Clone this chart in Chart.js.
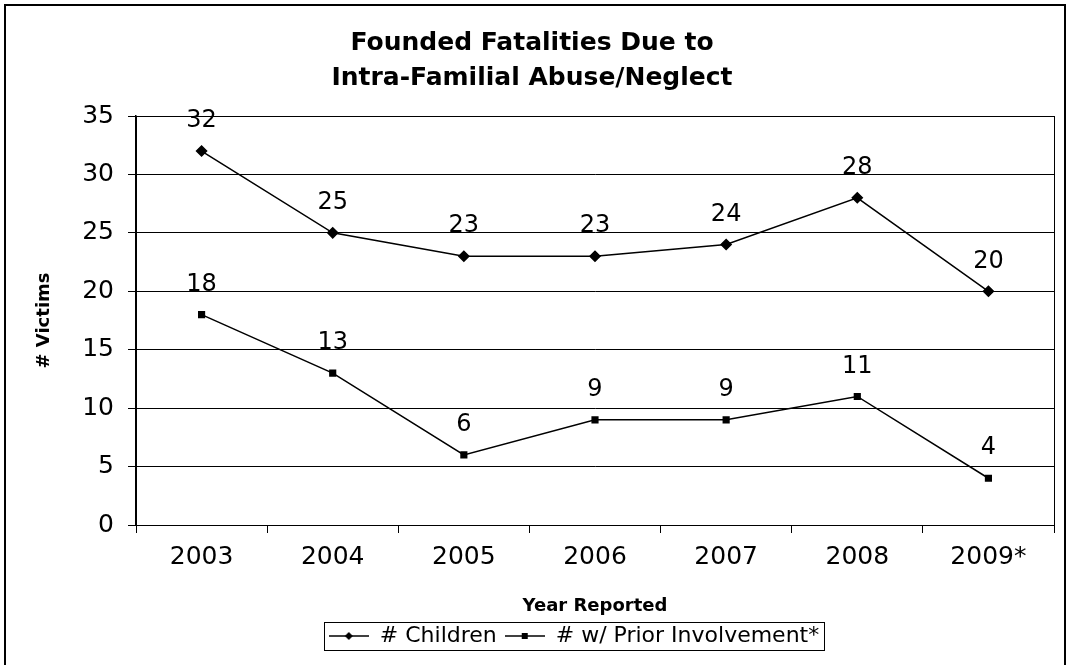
<!DOCTYPE html>
<html>
<head>
<meta charset="utf-8">
<script src="https://cdn.jsdelivr.net/npm/chart.js@4.4.1/dist/chart.umd.min.js"></script>
<style>
  html, body { margin: 0; padding: 0; background: #fff; }
  #wrap { width: 1070px; height: 665px; position: relative; }
</style>
</head>
<body>
<div id="wrap"><canvas id="c" width="1070" height="665"></canvas></div>
<script>
const categories = ['2003', '2004', '2005', '2006', '2007', '2008', '2009*'];
const children = [32, 25, 23, 23, 24, 28, 20];
const priorInvolvement = [18, 13, 6, 9, 9, 11, 4];
const yTicks = [0, 5, 10, 15, 20, 25, 30, 35];
const seriesNames = ['# Children', '# w/ Prior Involvement*'];
const titleLines = ['Founded Fatalities Due to', 'Intra-Familial Abuse/Neglect'];

const FONT = '"DejaVu Sans", "Liberation Sans", Arial, sans-serif';

function legendIcon(style) {
  const cv = document.createElement('canvas');
  cv.width = 40; cv.height = 12;
  const g = cv.getContext('2d');
  g.strokeStyle = '#000'; g.lineWidth = 1.5;
  g.beginPath(); g.moveTo(0, 6); g.lineTo(40, 6); g.stroke();
  g.fillStyle = '#000';
  if (style === 'diamond') {
    g.beginPath(); g.moveTo(20, 2); g.lineTo(24, 6); g.lineTo(20, 10); g.lineTo(16, 6); g.closePath(); g.fill();
  } else {
    g.fillRect(17, 3, 6, 6);
  }
  return cv;
}

const frame = {
  id: 'frame',
  afterLayout(chart) {
    const lg = chart.legend;
    if (lg) { lg.left += 42; lg.right += 42; }
  },
  beforeDraw(chart) {
    const ctx = chart.ctx;
    ctx.save();
    ctx.fillStyle = '#fff';
    ctx.fillRect(0, 0, chart.width, chart.height);
    ctx.strokeStyle = '#000';
    ctx.lineWidth = 2;
    ctx.strokeRect(5, 5, 1060, 680);
    ctx.restore();
  },
  afterDraw(chart) {
    const ctx = chart.ctx;
    const a = chart.chartArea;
    ctx.save();
    ctx.strokeStyle = '#000';
    ctx.lineWidth = 1;
    ctx.strokeRect(Math.round(a.left) + 0.5, Math.round(a.top) + 0.5, Math.round(a.right - a.left), Math.round(a.bottom - a.top));
    // legend box
    const boxes = chart.legend.legendHitBoxes;
    if (boxes && boxes.length) {
      let l = Infinity, r = -Infinity, t = Infinity, b = -Infinity;
      boxes.forEach(h => { l = Math.min(l, h.left); r = Math.max(r, h.left + h.width); t = Math.min(t, h.top); b = Math.max(b, h.top + h.height); });
      ctx.strokeRect(Math.round(l - 5) + 0.5, Math.round(t - 3) + 0.5, Math.round(r - l + 10), Math.round(b - t + 6));
    }
    // data labels
    ctx.fillStyle = '#000';
    ctx.font = '24px ' + FONT;
    ctx.textAlign = 'center';
    ctx.textBaseline = 'middle';
    chart.data.datasets.forEach((ds, i) => {
      const meta = chart.getDatasetMeta(i);
      meta.data.forEach((pt, j) => {
        ctx.fillText(String(ds.data[j]), pt.x, pt.y - 30);
      });
    });
    ctx.restore();
  }
};

new Chart(document.getElementById('c'), {
  type: 'line',
  data: {
    labels: categories,
    datasets: [
      {
        label: seriesNames[0], data: children,
        borderColor: '#000', backgroundColor: '#000', borderWidth: 1.5,
        pointStyle: 'rectRot', pointRadius: 5, pointHoverRadius: 5, tension: 0, fill: false,
        legendIcon: 'diamond'
      },
      {
        label: seriesNames[1], data: priorInvolvement,
        borderColor: '#000', backgroundColor: '#000', borderWidth: 1.5,
        pointStyle: 'rect', pointRadius: 4, pointHoverRadius: 4, tension: 0, fill: false,
        legendIcon: 'square'
      }
    ]
  },
  options: {
    responsive: false,
    animation: false,
    events: [],
    layout: { padding: { left: 10, right: 16, top: 6, bottom: 8 } },
    plugins: {
      tooltip: { enabled: false },
      title: {
        display: true, text: titleLines, color: '#000',
        font: { family: FONT, size: 25, weight: 'bold', lineHeight: 1.4 },
        padding: { top: 20, bottom: 20 }
      },
      legend: {
        position: 'bottom',
        labels: {
          color: '#000',
          font: { family: FONT, size: 22 },
          usePointStyle: true,
          pointStyleWidth: 40,
          padding: 8,
          generateLabels(chart) {
            return chart.data.datasets.map((ds, i) => ({
              text: ds.label,
              pointStyle: legendIcon(ds.legendIcon),
              fillStyle: '#000', strokeStyle: '#000', lineWidth: 0,
              datasetIndex: i, hidden: false, fontColor: '#000'
            }));
          }
        }
      }
    },
    scales: {
      x: {
        offset: true,
        afterFit(scale) { scale.height = 92; },
        grid: { offset: true, drawOnChartArea: false, drawTicks: true, tickLength: 8, color: '#000' },
        border: { display: true, color: '#000', width: 1 },
        ticks: { color: '#000', font: { family: FONT, size: 25 }, padding: 9, maxRotation: 0 },
        title: { display: true, text: 'Year Reported', color: '#000', font: { family: FONT, size: 18, weight: 'bold' }, padding: { top: 20, bottom: 0 } }
      },
      y: {
        min: 0, max: 35,
        afterBuildTicks(scale) { scale.ticks = yTicks.map(v => ({ value: v })); },
        afterFit(scale) { scale.width = 126; },
        grid: { color: '#000', lineWidth: 1, drawTicks: true, tickLength: 8 },
        border: { display: true, color: '#000', width: 1.5 },
        ticks: { color: '#000', font: { family: FONT, size: 25 }, padding: 14 },
        title: { display: true, text: '# Victims', color: '#000', font: { family: FONT, size: 18, weight: 'bold' }, padding: { top: 24, bottom: 0 } }
      }
    }
  },
  plugins: [frame]
});
</script>
</body>
</html>
